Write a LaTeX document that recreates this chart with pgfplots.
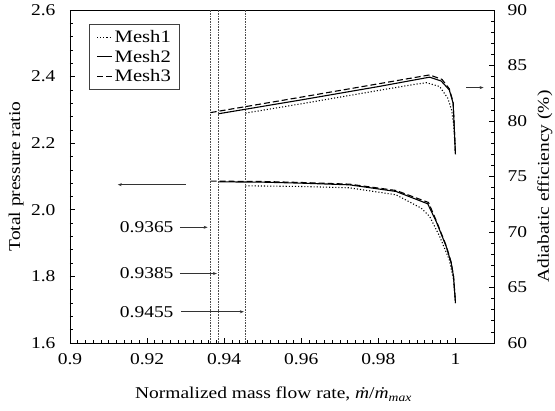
\documentclass[border=0pt]{standalone}
\usepackage{fontspec}
\setmainfont{Liberation Serif}[FakeStretch=1.18]
\usepackage{pgfplots}
\pgfplotsset{compat=1.18}
\usetikzlibrary{arrows.meta}

\begin{document}
\begin{tikzpicture}[x=1pt,y=1pt,font=\fontsize{16.5}{19}\selectfont]
\useasboundingbox (0,0) rectangle (555,411);
\begin{axis}[
  at={(70pt,68pt)}, anchor=south west,
  scale only axis, width=424pt, height=333pt,
  xmin=0.9, xmax=1.01, ymin=1.6, ymax=2.6,
  xtick={0.9,0.92,0.94,0.96,0.98,1},
  ytick={1.6,1.8,2.0,2.2,2.4,2.6},
  minor x tick num=9, minor y tick num=4,
  xtick pos=bottom, ytick pos=left,
  tick align=inside,
  major tick length=5pt, minor tick length=3pt,
  tick style={black, line width=0.6pt},
  axis line style={black, line width=0.9pt},
  /pgf/number format/assume math mode=true,
  xticklabel style={/pgf/number format/fixed, /pgf/number format/precision=2, yshift=-7pt},
  yticklabel style={/pgf/number format/fixed, /pgf/number format/fixed zerofill, /pgf/number format/precision=1, xshift=-11pt},
  xlabel={Normalized mass flow rate, \textit{\.m}/\textit{\.m}\textsubscript{\textit{max}}},
  xlabel style={at={(axis description cs:0.48,0)}, anchor=center, yshift=-51pt},
  ylabel={Total pressure ratio},
  ylabel style={at={(axis description cs:-0.127,0.5)}, anchor=center},
  legend style={at={(axis description cs:0.045,0.958)}, anchor=north west,
    draw=black!75, line width=1pt, inner xsep=7pt, inner ysep=4pt,
    row sep=2pt, font=\fontsize{17.5}{19}\selectfont},
  legend cell align=left,
  legend image code/.code={\draw[#1] (0pt,0pt) -- (15pt,0pt);},
]
% Total pressure ratio
\addplot[black, line width=1.1pt, dotted] coordinates {
(0.9455,2.072) (0.96,2.070) (0.9725,2.066) (0.9846,2.045) (0.9911,2.005)
(0.9933,1.980) (0.9959,1.920) (0.9984,1.850) (0.9995,1.790) (1.0,1.720)};
\addlegendentry{Mesh1}
\addplot[black, line width=1.1pt] coordinates {
(0.9385,2.084) (0.95,2.083) (0.96,2.080) (0.9725,2.075) (0.9846,2.055)
(0.9928,2.018) (0.9950,1.965) (0.9976,1.890) (0.9989,1.840) (0.9995,1.800) (1.0,1.720)};
\addlegendentry{Mesh2}
\addplot[black, line width=1.1pt, dash pattern=on 6pt off 3pt] coordinates {
(0.9365,2.086) (0.95,2.085) (0.96,2.082) (0.9725,2.077) (0.9846,2.058)
(0.9930,2.022) (0.9950,1.968) (0.9976,1.892) (0.9989,1.842) (0.9995,1.800) (1.0,1.725)};
\addlegendentry{Mesh3}
% vertical reference lines
\addplot[forget plot, black!70, line width=0.6pt, densely dotted] coordinates {(0.9365,1.6) (0.9365,2.6)};
\addplot[forget plot, black!70, line width=0.6pt, densely dotted] coordinates {(0.9385,1.6) (0.9385,2.6)};
\addplot[forget plot, black!70, line width=0.6pt, densely dotted] coordinates {(0.9455,1.6) (0.9455,2.6)};
% annotations
\draw[-{Stealth[length=4pt,width=3pt]}, black!80, line width=0.6pt] (axis cs:0.930,2.0754) -- (axis cs:0.9124,2.0754);
\draw[-{Stealth[length=4pt,width=3pt]}, black!80, line width=0.6pt] (axis cs:1.0028,2.367) -- (axis cs:1.0073,2.367);
\node at (axis cs:0.9199,1.9474) {0.9365};
\node at (axis cs:0.9199,1.8086) {0.9385};
\node at (axis cs:0.9199,1.6938) {0.9455};
\draw[-{Stealth[length=4pt,width=3pt]}, black!80, line width=0.6pt] (axis cs:0.9285,1.9474) -- (axis cs:0.9357,1.9474);
\draw[-{Stealth[length=4pt,width=3pt]}, black!80, line width=0.6pt] (axis cs:0.9285,1.8086) -- (axis cs:0.9381,1.8086);
\draw[-{Stealth[length=4pt,width=3pt]}, black!80, line width=0.6pt] (axis cs:0.9289,1.6938) -- (axis cs:0.9451,1.6938);
\end{axis}
\begin{axis}[
  at={(70pt,68pt)}, anchor=south west,
  scale only axis, width=424pt, height=333pt,
  xmin=0.9, xmax=1.01, ymin=60, ymax=90,
  axis x line=none, axis y line*=right,
  ytick={60,65,70,75,80,85,90},
  minor y tick num=4,
  tick align=inside,
  major tick length=5pt, minor tick length=3pt,
  tick style={black, line width=0.6pt},
  axis line style={black, line width=0.9pt},
  /pgf/number format/assume math mode=true,
  yticklabel style={xshift=10pt},
  ylabel={Adiabatic efficiency (\%)},
  ylabel style={at={(axis description cs:1.12,0.47)}, anchor=center},
]
\addplot[black, line width=1.1pt, dotted] coordinates {
(0.9455,80.71) (0.96,81.55) (0.97,82.15) (0.98,82.75) (0.9894,83.30)
(0.9925,83.45) (0.9959,83.10) (0.9980,82.06) (0.9990,81.00) (0.9996,79.50) (1.0,77.0)};
\addplot[black, line width=1.1pt] coordinates {
(0.9385,80.65) (0.96,81.90) (0.98,83.10) (0.9933,83.95) (0.9963,83.60)
(0.9984,82.80) (0.9994,81.60) (1.0,77.0)};
\addplot[black, line width=1.1pt, dash pattern=on 6pt off 3pt] coordinates {
(0.9365,80.76) (0.96,82.15) (0.98,83.35) (0.9933,84.15) (0.9965,83.75)
(0.9984,82.90) (0.9994,81.70) (1.0,77.0)};
\end{axis}
\end{tikzpicture}
\end{document}
